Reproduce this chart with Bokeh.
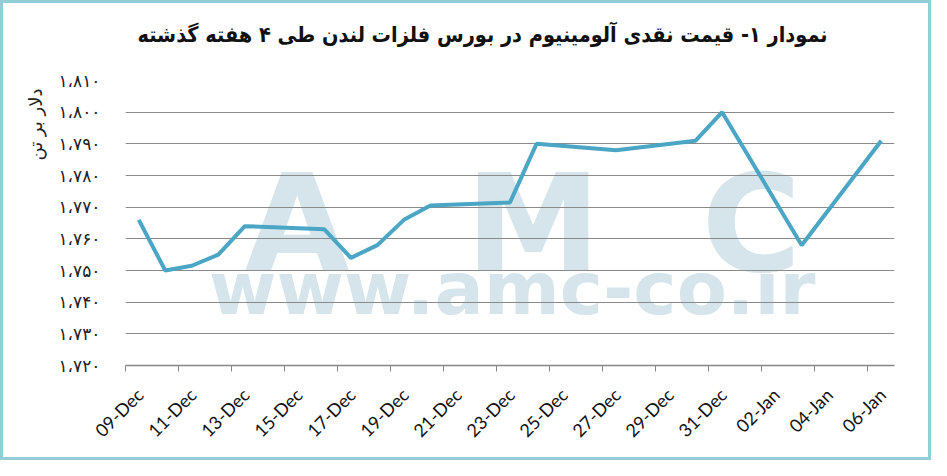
import math
import pandas as pd
from bokeh.plotting import figure
from bokeh.models import (Range1d, FixedTicker, DatetimeTickFormatter, DatetimeAxis,
                          CustomJSTickFormatter, Title)
from bokeh.core.properties import value
from bokeh.embed import file_html
from bokeh.resources import INLINE

# ---- data ----
dates = ["2019-12-09", "2019-12-10", "2019-12-11", "2019-12-12", "2019-12-13",
         "2019-12-16", "2019-12-17", "2019-12-18", "2019-12-19", "2019-12-20",
         "2019-12-23", "2019-12-24", "2019-12-27", "2019-12-30", "2019-12-31",
         "2020-01-03", "2020-01-06"]
prices = [1766, 1750, 1751.5, 1755, 1764,
          1763, 1754, 1758, 1766, 1770.5,
          1771.5, 1790, 1788, 1791, 1800,
          1758, 1791]
y_ticks = [1720, 1730, 1740, 1750, 1760, 1770, 1780, 1790, 1800, 1810]
title_text = "نمودار ۱- قیمت نقدی آلومینیوم در بورس فلزات لندن طی ۴ هفته گذشته"
y_label = "دلار بر تن"
watermark_big = ["A", "M", "C"]
watermark_url = "www.amc-co.ir"

FA = str.maketrans("0123456789,", "۰۱۲۳۴۵۶۷۸۹،")
def fa(n):
    return f"{n:,}".translate(FA)

x = pd.to_datetime(dates) + pd.Timedelta(hours=12)
start = pd.Timestamp("2019-12-09")
end = pd.Timestamp("2020-01-07")
y0, y1 = 1720, 1810
tick_dates = pd.date_range(start, pd.Timestamp("2020-01-06"), freq="2D")
tick_ms = [int(t.value // 10**6) for t in tick_dates]
label_ms = [int((t + pd.Timedelta(hours=13)).value // 10**6) for t in tick_dates]

FONT = "DejaVu Sans"
p = figure(width=931, height=460, output_backend="svg", toolbar_location=None,
           x_axis_type="datetime",
           x_range=Range1d(start, end), y_range=Range1d(y0, y1),
           min_border_left=122, min_border_right=40, min_border_top=77, min_border_bottom=98)
p.styles = {"border": "3px solid #93cdd8"}
p.outline_line_color = None
p.background_fill_color = "white"
p.border_fill_color = "white"

# title: an empty second line lifts the text away from the plot area
p.title.text = title_text + "\n\u00a0"
p.title.text_font = "DejaVu Sans Condensed"
p.title.text_font_style = "bold"
p.title.text_font_size = "21.5px"
p.title.align = "left"
p.title.offset = 12
p.title.text_color = "#111111"
p.title.standoff = 17

# watermark (decorative text behind the line)
span = end - start
def frac_x(f):
    return start + span * f
wm = "#d5e5eb"
p.text(x=[frac_x(0.2233), frac_x(0.530), frac_x(0.814)], y=[1764.6] * 3, text=watermark_big,
       text_font=value(FONT), text_font_style="bold", text_font_size="136px",
       text_color=wm, text_align="center", text_baseline="middle", level="underlay")
p.text(x=[frac_x(0.503)], y=[1744.4], text=[watermark_url],
       text_font=value(FONT), text_font_style="bold", text_font_size="73px",
       text_color=wm, text_align="center", text_baseline="middle", level="underlay")

p.line(x, prices, line_color="#4aa6c4", line_width=4)

# primary x axis: line and tick marks only
p.xaxis.ticker = FixedTicker(ticks=tick_ms)
p.xaxis.formatter = CustomJSTickFormatter(code="return ''")
p.xaxis.axis_line_color = "#868686"
p.xaxis.axis_line_width = 1.3
p.xaxis.major_tick_line_color = "#868686"
p.xaxis.major_tick_in = 0
p.xaxis.major_tick_out = 6
p.xaxis.minor_tick_line_color = None
p.xaxis.major_label_standoff = 0
p.xaxis.major_label_text_font_size = "1px"

# secondary axis carrying the rotated date labels
lab_axis = DatetimeAxis(ticker=FixedTicker(ticks=label_ms),
                        formatter=DatetimeTickFormatter(days="%d-%b", months="%d-%b", hours="%d-%b"),
                        axis_line_color=None, major_tick_line_color=None, minor_tick_line_color=None,
                        major_label_orientation=math.pi / 4, major_label_text_font="Lato",
                        major_label_text_font_size="18px", major_label_text_color="#111111",
                        major_label_standoff=14)
p.add_layout(lab_axis, "below")

p.yaxis.ticker = FixedTicker(ticks=y_ticks)
p.yaxis.major_label_overrides = {t: fa(t) for t in y_ticks}
p.yaxis.major_label_text_font = FONT
p.yaxis.major_label_text_font_size = "17px"
p.yaxis.major_label_text_color = "#222222"
p.yaxis.axis_line_color = None
p.yaxis.major_tick_line_color = None
p.yaxis.minor_tick_line_color = None
p.yaxis.major_label_standoff = 19

p.xgrid.grid_line_color = None
p.ygrid.ticker = FixedTicker(ticks=y_ticks)
p.ygrid.grid_line_color = "#8a8a8a"
p.ygrid.grid_line_width = 1.2

p.add_layout(Title(text=y_label, align="right", offset=8, standoff=20,
                   text_font=FONT, text_font_size="18px", text_font_style="normal",
                   text_color="#222222"), "left")

open("out.html", "w").write(file_html(p, INLINE))
